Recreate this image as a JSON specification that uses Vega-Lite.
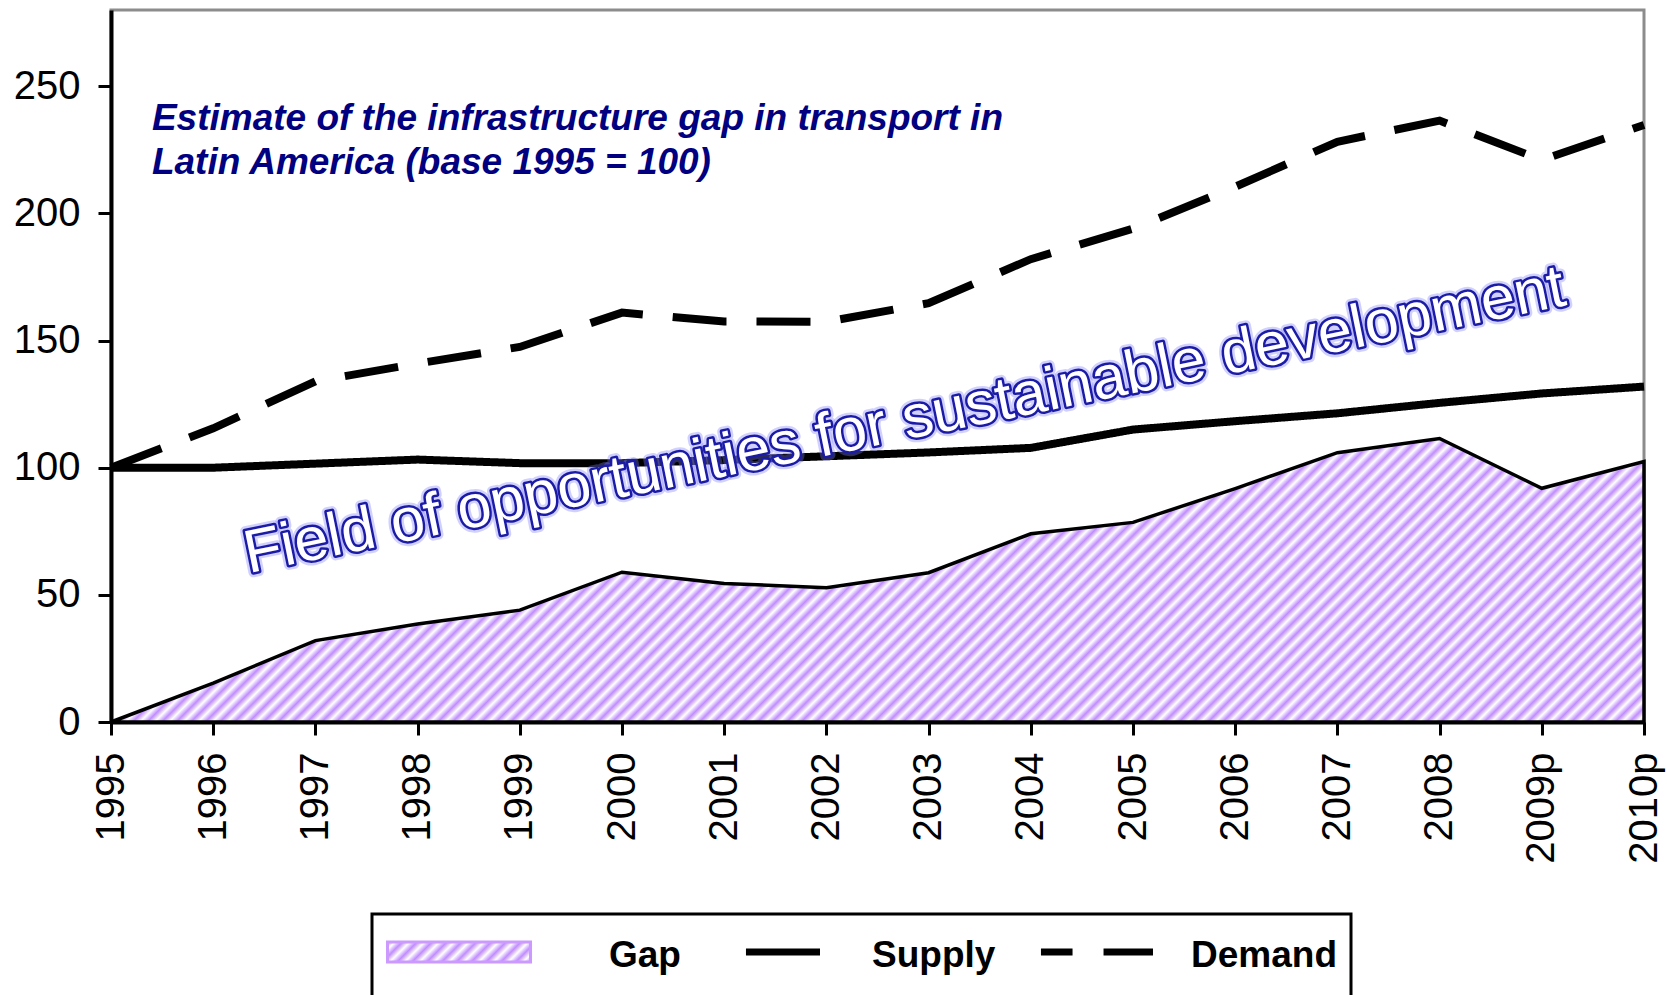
{
  "$schema": "https://vega.github.io/schema/vega-lite/v6.json",
  "width": 1533,
  "height": 712,
  "autosize": {"type": "none"},
  "padding": {"left": 111, "top": 10, "right": 23, "bottom": 273},
  "background": "#ffffff",
  "config": {
    "view": {"stroke": "#8c8c8c", "strokeWidth": 3},
    "font": "Liberation Sans",
    "axis": {"grid": false, "domainColor": "#000000", "domainWidth": 4, "tickColor": "#000000", "tickWidth": 3, "tickSize": 13, "labelColor": "#000000", "labelFont": "Liberation Sans", "labelFontSize": 40}
  },
  "data": {"values": [
    {"year": 1995, "series": "Demand", "value": 100},
    {"year": 1996, "series": "Demand", "value": 115.5},
    {"year": 1997, "series": "Demand", "value": 134},
    {"year": 1998, "series": "Demand", "value": 141},
    {"year": 1999, "series": "Demand", "value": 147.5},
    {"year": 2000, "series": "Demand", "value": 161},
    {"year": 2001, "series": "Demand", "value": 157.5},
    {"year": 2002, "series": "Demand", "value": 157.4},
    {"year": 2003, "series": "Demand", "value": 164.7},
    {"year": 2004, "series": "Demand", "value": 182},
    {"year": 2005, "series": "Demand", "value": 194},
    {"year": 2006, "series": "Demand", "value": 210.5},
    {"year": 2007, "series": "Demand", "value": 228.2},
    {"year": 2008, "series": "Demand", "value": 236.5},
    {"year": 2009, "series": "Demand", "value": 221},
    {"year": 2010, "series": "Demand", "value": 234.8},
    {"year": 1995, "series": "Supply", "value": 100},
    {"year": 1996, "series": "Supply", "value": 100},
    {"year": 1997, "series": "Supply", "value": 101.6},
    {"year": 1998, "series": "Supply", "value": 103.2},
    {"year": 1999, "series": "Supply", "value": 101.8},
    {"year": 2000, "series": "Supply", "value": 101.8},
    {"year": 2001, "series": "Supply", "value": 103},
    {"year": 2002, "series": "Supply", "value": 104.5},
    {"year": 2003, "series": "Supply", "value": 106},
    {"year": 2004, "series": "Supply", "value": 107.8},
    {"year": 2005, "series": "Supply", "value": 115},
    {"year": 2006, "series": "Supply", "value": 118.3},
    {"year": 2007, "series": "Supply", "value": 121.4},
    {"year": 2008, "series": "Supply", "value": 125.5},
    {"year": 2009, "series": "Supply", "value": 129.2},
    {"year": 2010, "series": "Supply", "value": 131.9},
    {"year": 1995, "series": "Gap", "value": 0},
    {"year": 1996, "series": "Gap", "value": 15.3},
    {"year": 1997, "series": "Gap", "value": 32},
    {"year": 1998, "series": "Gap", "value": 38.5},
    {"year": 1999, "series": "Gap", "value": 44},
    {"year": 2000, "series": "Gap", "value": 58.9},
    {"year": 2001, "series": "Gap", "value": 54.5},
    {"year": 2002, "series": "Gap", "value": 52.8},
    {"year": 2003, "series": "Gap", "value": 58.7},
    {"year": 2004, "series": "Gap", "value": 74},
    {"year": 2005, "series": "Gap", "value": 78.5},
    {"year": 2006, "series": "Gap", "value": 91.8},
    {"year": 2007, "series": "Gap", "value": 105.9},
    {"year": 2008, "series": "Gap", "value": 111.5},
    {"year": 2009, "series": "Gap", "value": 91.9},
    {"year": 2010, "series": "Gap", "value": 102.4}
  ]},
  "layer": [
    {
      "transform": [{"filter": "datum.series === 'Gap'"}],
      "mark": {"type": "area", "stroke": "#000000", "strokeWidth": 3.5, "strokeJoin": "miter",
        "fill": {"gradient": "linear", "x1": 0, "y1": 0, "x2": 1.1458, "y2": 0.2119, "stops": [
{"offset":0,"color":"#c08cff"},{"offset":0.004,"color":"#ffffff"},{"offset":0.008,"color":"#c08cff"},{"offset":0.012,"color":"#ffffff"},{"offset":0.016,"color":"#c08cff"},{"offset":0.02,"color":"#ffffff"},{"offset":0.024,"color":"#c08cff"},{"offset":0.028,"color":"#ffffff"},{"offset":0.032,"color":"#c08cff"},{"offset":0.036,"color":"#ffffff"},
{"offset":0.04,"color":"#c08cff"},{"offset":0.044,"color":"#ffffff"},{"offset":0.048,"color":"#c08cff"},{"offset":0.052,"color":"#ffffff"},{"offset":0.056,"color":"#c08cff"},{"offset":0.06,"color":"#ffffff"},{"offset":0.064,"color":"#c08cff"},{"offset":0.068,"color":"#ffffff"},{"offset":0.072,"color":"#c08cff"},{"offset":0.076,"color":"#ffffff"},
{"offset":0.08,"color":"#c08cff"},{"offset":0.084,"color":"#ffffff"},{"offset":0.088,"color":"#c08cff"},{"offset":0.092,"color":"#ffffff"},{"offset":0.096,"color":"#c08cff"},{"offset":0.1,"color":"#ffffff"},{"offset":0.104,"color":"#c08cff"},{"offset":0.108,"color":"#ffffff"},{"offset":0.112,"color":"#c08cff"},{"offset":0.116,"color":"#ffffff"},
{"offset":0.12,"color":"#c08cff"},{"offset":0.124,"color":"#ffffff"},{"offset":0.128,"color":"#c08cff"},{"offset":0.132,"color":"#ffffff"},{"offset":0.136,"color":"#c08cff"},{"offset":0.14,"color":"#ffffff"},{"offset":0.144,"color":"#c08cff"},{"offset":0.148,"color":"#ffffff"},{"offset":0.152,"color":"#c08cff"},{"offset":0.156,"color":"#ffffff"},
{"offset":0.16,"color":"#c08cff"},{"offset":0.164,"color":"#ffffff"},{"offset":0.168,"color":"#c08cff"},{"offset":0.172,"color":"#ffffff"},{"offset":0.176,"color":"#c08cff"},{"offset":0.18,"color":"#ffffff"},{"offset":0.184,"color":"#c08cff"},{"offset":0.188,"color":"#ffffff"},{"offset":0.192,"color":"#c08cff"},{"offset":0.196,"color":"#ffffff"},
{"offset":0.2,"color":"#c08cff"},{"offset":0.204,"color":"#ffffff"},{"offset":0.208,"color":"#c08cff"},{"offset":0.212,"color":"#ffffff"},{"offset":0.216,"color":"#c08cff"},{"offset":0.22,"color":"#ffffff"},{"offset":0.224,"color":"#c08cff"},{"offset":0.228,"color":"#ffffff"},{"offset":0.232,"color":"#c08cff"},{"offset":0.236,"color":"#ffffff"},
{"offset":0.24,"color":"#c08cff"},{"offset":0.244,"color":"#ffffff"},{"offset":0.248,"color":"#c08cff"},{"offset":0.252,"color":"#ffffff"},{"offset":0.256,"color":"#c08cff"},{"offset":0.26,"color":"#ffffff"},{"offset":0.264,"color":"#c08cff"},{"offset":0.268,"color":"#ffffff"},{"offset":0.272,"color":"#c08cff"},{"offset":0.276,"color":"#ffffff"},
{"offset":0.28,"color":"#c08cff"},{"offset":0.284,"color":"#ffffff"},{"offset":0.288,"color":"#c08cff"},{"offset":0.292,"color":"#ffffff"},{"offset":0.296,"color":"#c08cff"},{"offset":0.3,"color":"#ffffff"},{"offset":0.304,"color":"#c08cff"},{"offset":0.308,"color":"#ffffff"},{"offset":0.312,"color":"#c08cff"},{"offset":0.316,"color":"#ffffff"},
{"offset":0.32,"color":"#c08cff"},{"offset":0.324,"color":"#ffffff"},{"offset":0.328,"color":"#c08cff"},{"offset":0.332,"color":"#ffffff"},{"offset":0.336,"color":"#c08cff"},{"offset":0.34,"color":"#ffffff"},{"offset":0.344,"color":"#c08cff"},{"offset":0.348,"color":"#ffffff"},{"offset":0.352,"color":"#c08cff"},{"offset":0.356,"color":"#ffffff"},
{"offset":0.36,"color":"#c08cff"},{"offset":0.364,"color":"#ffffff"},{"offset":0.368,"color":"#c08cff"},{"offset":0.372,"color":"#ffffff"},{"offset":0.376,"color":"#c08cff"},{"offset":0.38,"color":"#ffffff"},{"offset":0.384,"color":"#c08cff"},{"offset":0.388,"color":"#ffffff"},{"offset":0.392,"color":"#c08cff"},{"offset":0.396,"color":"#ffffff"},
{"offset":0.4,"color":"#c08cff"},{"offset":0.404,"color":"#ffffff"},{"offset":0.408,"color":"#c08cff"},{"offset":0.412,"color":"#ffffff"},{"offset":0.416,"color":"#c08cff"},{"offset":0.42,"color":"#ffffff"},{"offset":0.424,"color":"#c08cff"},{"offset":0.428,"color":"#ffffff"},{"offset":0.432,"color":"#c08cff"},{"offset":0.436,"color":"#ffffff"},
{"offset":0.44,"color":"#c08cff"},{"offset":0.444,"color":"#ffffff"},{"offset":0.448,"color":"#c08cff"},{"offset":0.452,"color":"#ffffff"},{"offset":0.456,"color":"#c08cff"},{"offset":0.46,"color":"#ffffff"},{"offset":0.464,"color":"#c08cff"},{"offset":0.468,"color":"#ffffff"},{"offset":0.472,"color":"#c08cff"},{"offset":0.476,"color":"#ffffff"},
{"offset":0.48,"color":"#c08cff"},{"offset":0.484,"color":"#ffffff"},{"offset":0.488,"color":"#c08cff"},{"offset":0.492,"color":"#ffffff"},{"offset":0.496,"color":"#c08cff"},{"offset":0.5,"color":"#ffffff"},{"offset":0.504,"color":"#c08cff"},{"offset":0.508,"color":"#ffffff"},{"offset":0.512,"color":"#c08cff"},{"offset":0.516,"color":"#ffffff"},
{"offset":0.52,"color":"#c08cff"},{"offset":0.524,"color":"#ffffff"},{"offset":0.528,"color":"#c08cff"},{"offset":0.532,"color":"#ffffff"},{"offset":0.536,"color":"#c08cff"},{"offset":0.54,"color":"#ffffff"},{"offset":0.544,"color":"#c08cff"},{"offset":0.548,"color":"#ffffff"},{"offset":0.552,"color":"#c08cff"},{"offset":0.556,"color":"#ffffff"},
{"offset":0.56,"color":"#c08cff"},{"offset":0.564,"color":"#ffffff"},{"offset":0.568,"color":"#c08cff"},{"offset":0.572,"color":"#ffffff"},{"offset":0.576,"color":"#c08cff"},{"offset":0.58,"color":"#ffffff"},{"offset":0.584,"color":"#c08cff"},{"offset":0.588,"color":"#ffffff"},{"offset":0.592,"color":"#c08cff"},{"offset":0.596,"color":"#ffffff"},
{"offset":0.6,"color":"#c08cff"},{"offset":0.604,"color":"#ffffff"},{"offset":0.608,"color":"#c08cff"},{"offset":0.612,"color":"#ffffff"},{"offset":0.616,"color":"#c08cff"},{"offset":0.62,"color":"#ffffff"},{"offset":0.624,"color":"#c08cff"},{"offset":0.628,"color":"#ffffff"},{"offset":0.632,"color":"#c08cff"},{"offset":0.636,"color":"#ffffff"},
{"offset":0.64,"color":"#c08cff"},{"offset":0.644,"color":"#ffffff"},{"offset":0.648,"color":"#c08cff"},{"offset":0.652,"color":"#ffffff"},{"offset":0.656,"color":"#c08cff"},{"offset":0.66,"color":"#ffffff"},{"offset":0.664,"color":"#c08cff"},{"offset":0.668,"color":"#ffffff"},{"offset":0.672,"color":"#c08cff"},{"offset":0.676,"color":"#ffffff"},
{"offset":0.68,"color":"#c08cff"},{"offset":0.684,"color":"#ffffff"},{"offset":0.688,"color":"#c08cff"},{"offset":0.692,"color":"#ffffff"},{"offset":0.696,"color":"#c08cff"},{"offset":0.7,"color":"#ffffff"},{"offset":0.704,"color":"#c08cff"},{"offset":0.708,"color":"#ffffff"},{"offset":0.712,"color":"#c08cff"},{"offset":0.716,"color":"#ffffff"},
{"offset":0.72,"color":"#c08cff"},{"offset":0.724,"color":"#ffffff"},{"offset":0.728,"color":"#c08cff"},{"offset":0.732,"color":"#ffffff"},{"offset":0.736,"color":"#c08cff"},{"offset":0.74,"color":"#ffffff"},{"offset":0.744,"color":"#c08cff"},{"offset":0.748,"color":"#ffffff"},{"offset":0.752,"color":"#c08cff"},{"offset":0.756,"color":"#ffffff"},
{"offset":0.76,"color":"#c08cff"},{"offset":0.764,"color":"#ffffff"},{"offset":0.768,"color":"#c08cff"},{"offset":0.772,"color":"#ffffff"},{"offset":0.776,"color":"#c08cff"},{"offset":0.78,"color":"#ffffff"},{"offset":0.784,"color":"#c08cff"},{"offset":0.788,"color":"#ffffff"},{"offset":0.792,"color":"#c08cff"},{"offset":0.796,"color":"#ffffff"},
{"offset":0.8,"color":"#c08cff"},{"offset":0.804,"color":"#ffffff"},{"offset":0.808,"color":"#c08cff"},{"offset":0.812,"color":"#ffffff"},{"offset":0.816,"color":"#c08cff"},{"offset":0.82,"color":"#ffffff"},{"offset":0.824,"color":"#c08cff"},{"offset":0.828,"color":"#ffffff"},{"offset":0.832,"color":"#c08cff"},{"offset":0.836,"color":"#ffffff"},
{"offset":0.84,"color":"#c08cff"},{"offset":0.844,"color":"#ffffff"},{"offset":0.848,"color":"#c08cff"},{"offset":0.852,"color":"#ffffff"},{"offset":0.856,"color":"#c08cff"},{"offset":0.86,"color":"#ffffff"},{"offset":0.864,"color":"#c08cff"},{"offset":0.868,"color":"#ffffff"},{"offset":0.872,"color":"#c08cff"},{"offset":0.876,"color":"#ffffff"},
{"offset":0.88,"color":"#c08cff"},{"offset":0.884,"color":"#ffffff"},{"offset":0.888,"color":"#c08cff"},{"offset":0.892,"color":"#ffffff"},{"offset":0.896,"color":"#c08cff"},{"offset":0.9,"color":"#ffffff"},{"offset":0.904,"color":"#c08cff"},{"offset":0.908,"color":"#ffffff"},{"offset":0.912,"color":"#c08cff"},{"offset":0.916,"color":"#ffffff"},
{"offset":0.92,"color":"#c08cff"},{"offset":0.924,"color":"#ffffff"},{"offset":0.928,"color":"#c08cff"},{"offset":0.932,"color":"#ffffff"},{"offset":0.936,"color":"#c08cff"},{"offset":0.94,"color":"#ffffff"},{"offset":0.944,"color":"#c08cff"},{"offset":0.948,"color":"#ffffff"},{"offset":0.952,"color":"#c08cff"},{"offset":0.956,"color":"#ffffff"},
{"offset":0.96,"color":"#c08cff"},{"offset":0.964,"color":"#ffffff"},{"offset":0.968,"color":"#c08cff"},{"offset":0.972,"color":"#ffffff"},{"offset":0.976,"color":"#c08cff"},{"offset":0.98,"color":"#ffffff"},{"offset":0.984,"color":"#c08cff"},{"offset":0.988,"color":"#ffffff"},{"offset":0.992,"color":"#c08cff"},{"offset":0.996,"color":"#ffffff"},
{"offset":1,"color":"#c08cff"}
        ]}
      },
      "encoding": {
        "x": {"field": "year", "type": "quantitative", "scale": {"domain": [1995, 2010], "nice": false, "zero": false},
          "axis": {"title": null, "values": [1995, 1996, 1997, 1998, 1999, 2000, 2001, 2002, 2003, 2004, 2005, 2006, 2007, 2008, 2009, 2010], "labelAngle": 270, "labelPadding": 17, "labelExpr": "datum.value >= 2009 ? datum.value + 'p' : '' + datum.value", "labelFlush": false, "labelOverlap": false, "labelBound": false}},
        "y": {"field": "value", "type": "quantitative", "scale": {"domain": [0, 280], "nice": false},
          "axis": {"title": null, "values": [0, 50, 100, 150, 200, 250], "labelPadding": 18}}
      }
    },
    {
      "transform": [{"filter": "datum.series !== 'Gap'"}],
      "mark": {"type": "line", "strokeWidth": 8, "strokeCap": "butt", "strokeJoin": "miter"},
      "encoding": {
        "x": {"field": "year", "type": "quantitative"},
        "y": {"field": "value", "type": "quantitative"},
        "color": {
          "field": "series", "type": "nominal",
          "scale": {"domain": ["Gap", "Supply", "Demand"], "range": ["#cc99ff", "#000000", "#000000"]},
          "legend": {
            "orient": "none", "legendX": 261, "legendY": 904,
            "direction": "horizontal",
            "title": "\u00a0\u00a0\u00a0\u00a0\u00a0\u00a0\u00a0\u00a0\u00a0\u00a0\u00a0\u00a0\u00a0\u00a0\u00a0\u00a0\u00a0\u00a0\u00a0\u00a0\u00a0\u00a0\u00a0\u00a0\u00a0\u00a0\u00a0\u00a0\u00a0\u00a0\u00a0\u00a0\u00a0\u00a0\u00a0",
            "titleOrient": "bottom", "titleFontSize": 100, "titleLimit": 3000, "titlePadding": 8,
            "values": ["Gap", "Supply", "Demand"],
            "padding": 14,
            "strokeColor": "#000000",
            "fillColor": "#ffffff",
            "clipHeight": 48,
            "symbolSize": 31329,
            "symbolStrokeWidth": 3,
            "symbolStrokeColor": "#000000",
            "symbolOffset": 0,
            "labelOffset": 43,
            "columnPadding": 0,
            "labelFont": "Liberation Sans", "labelFontSize": 37, "labelFontWeight": "bold", "labelColor": "#000000", "labelLimit": 400,
            "encode": {
              "legend": {"update": {"strokeWidth": {"value": 3}}},
              "labels": {"update": {
                "dx": [
                  {"test": "datum.value === 'Supply'", "value": -32},
                  {"test": "datum.value === 'Demand'", "value": -28},
                  {"value": 0}
                ],
                "dy": {"value": 4}
              }},
              "symbols": {"update": {
                "shape": [
                  {"test": "datum.value === 'Gap'", "value": "M-1,-0.113H0.616V0.113H-1Z"},
                  {"test": "datum.value === 'Supply'", "value": "M-0.266,-0.023H0.537V0.023H-0.266Z"},
                  {"value": "M-0.492,-0.023H-0.169V0.023H-0.492Z M0.215,-0.023H0.74V0.023H0.215Z"}
                ],
                "fill": [
                  {"test": "datum.value === 'Gap'", "value": {"gradient": "linear", "x1": 0, "y1": 0, "x2": 1.118, "y2": 0.1564, "stops": [
                    {"offset":0,"color":"#c08cff"},{"offset":0.0455,"color":"#ffffff"},{"offset":0.0909,"color":"#c08cff"},{"offset":0.1364,"color":"#ffffff"},{"offset":0.1818,"color":"#c08cff"},{"offset":0.2273,"color":"#ffffff"},{"offset":0.2727,"color":"#c08cff"},{"offset":0.3182,"color":"#ffffff"},{"offset":0.3636,"color":"#c08cff"},{"offset":0.4091,"color":"#ffffff"},{"offset":0.4545,"color":"#c08cff"},{"offset":0.5,"color":"#ffffff"},{"offset":0.5455,"color":"#c08cff"},{"offset":0.5909,"color":"#ffffff"},{"offset":0.6364,"color":"#c08cff"},{"offset":0.6818,"color":"#ffffff"},{"offset":0.7273,"color":"#c08cff"},{"offset":0.7727,"color":"#ffffff"},{"offset":0.8182,"color":"#c08cff"},{"offset":0.8636,"color":"#ffffff"},{"offset":0.9091,"color":"#c08cff"},{"offset":0.9545,"color":"#ffffff"},{"offset":1,"color":"#c08cff"}
                  ]}},
                  {"value": "#000000"}
                ],
                "stroke": {"value": "#000000"},
                "opacity": {"value": 1},
                "fillOpacity": {"value": 1},
                "strokeOpacity": {"value": 1}
              }}
            }
          }
        },
        "strokeDash": {"field": "series", "type": "nominal", "scale": {"domain": ["Supply", "Demand"], "range": [[1, 0], [54, 30]]}, "legend": null}
      }
    },
    {
      "transform": [{"filter": "datum.series === 'Gap' && datum.year === 1995"}],
      "mark": {"type": "text", "text": ["Estimate of the infrastructure gap in transport in", "Latin America (base 1995 = 100)"], "align": "left", "baseline": "top", "lineHeight": 44, "font": "Liberation Sans", "fontSize": 37, "fontWeight": "bold", "fontStyle": "italic", "fill": "#000080"},
      "encoding": {"x": {"datum": 1995.4, "type": "quantitative"}, "y": {"datum": 244.3, "type": "quantitative"}}
    },
    {
      "transform": [{"filter": "datum.series === 'Gap' && datum.year === 1995"}],
      "mark": {"type": "text", "text": "Field of opportunities for sustainable development", "align": "center", "baseline": "alphabetic", "angle": 348.5, "font": "Liberation Sans", "fontSize": 61, "fontStyle": "normal", "fontWeight": "normal", "fill": "#ffffff", "stroke": "#7b7bff", "strokeWidth": 10, "strokeOpacity": 0.35, "strokeJoin": "round"},
      "encoding": {"x": {"datum": 2002.8, "type": "quantitative"}, "y": {"datum": 111.3, "type": "quantitative"}}
    },
    {
      "transform": [{"filter": "datum.series === 'Gap' && datum.year === 1995"}],
      "mark": {"type": "text", "text": "Field of opportunities for sustainable development", "align": "center", "baseline": "alphabetic", "angle": 348.5, "font": "Liberation Sans", "fontSize": 61, "fontStyle": "normal", "fontWeight": "normal", "fill": "#ffffff", "stroke": "#1b1ba6", "strokeWidth": 5, "strokeJoin": "round"},
      "encoding": {"x": {"datum": 2002.8, "type": "quantitative"}, "y": {"datum": 111.3, "type": "quantitative"}}
    },
    {
      "transform": [{"filter": "datum.series === 'Gap' && datum.year === 1995"}],
      "mark": {"type": "text", "text": "Field of opportunities for sustainable development", "align": "center", "baseline": "alphabetic", "angle": 348.5, "font": "Liberation Sans", "fontSize": 61, "fontStyle": "normal", "fontWeight": "normal", "fill": "#ffffff"},
      "encoding": {"x": {"datum": 2002.8, "type": "quantitative"}, "y": {"datum": 111.3, "type": "quantitative"}}
    }
  ]
}
